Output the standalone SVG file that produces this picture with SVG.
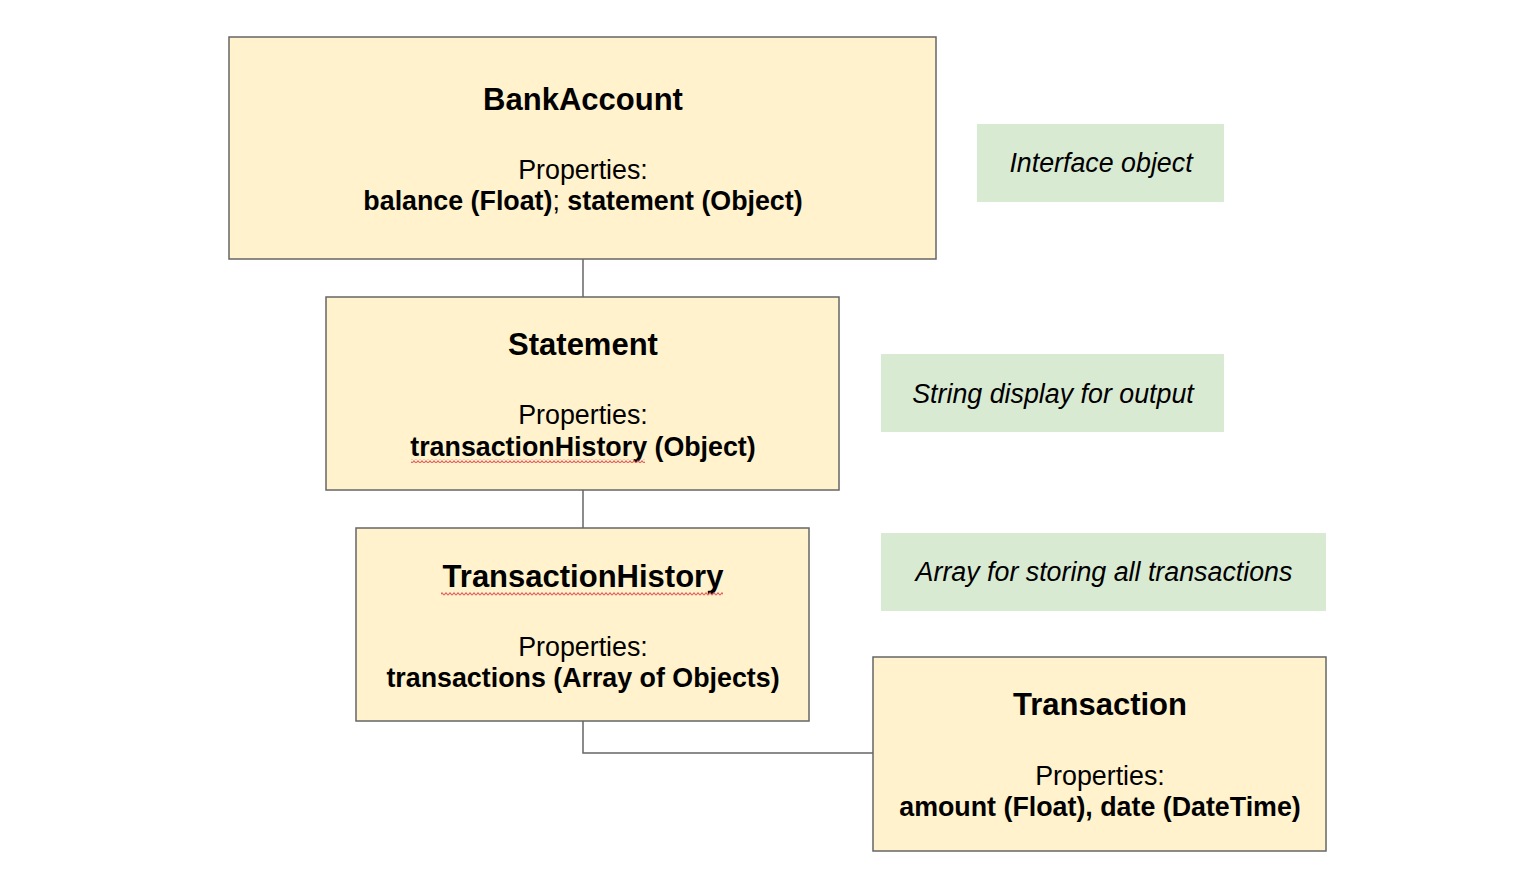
<svg xmlns="http://www.w3.org/2000/svg" width="1536" height="874" viewBox="0 0 1536 874">
<style>
.cls{fill:#fff2cc;stroke:#666666;stroke-width:1.5}
.note{fill:#d9ead3;stroke:none}
.t{font-family:"Liberation Sans",Arial,sans-serif;fill:#000;text-anchor:middle}
.title{font-size:31px;font-weight:bold}
.body{font-size:26.8px}
.b{font-weight:bold}
.it{font-size:26.8px;font-style:italic}
.conn{fill:none;stroke:#666666;stroke-width:1.5}
</style>
<defs>
<pattern id="wave" x="0" y="0" width="4" height="4" patternUnits="userSpaceOnUse">
<polyline points="0,3.2 2,0.8 4,3.2" fill="none" stroke="#e06666" stroke-width="1.1"/>
</pattern>
</defs>
<rect width="1536" height="874" fill="#ffffff"/>
<g id="connectors">
<line class="conn" x1="583" y1="259" x2="583" y2="297"/>
<line class="conn" x1="583" y1="490" x2="583" y2="528"/>
<polyline class="conn" points="583,721 583,753 873,753"/>
</g>
<g id="bankaccount">
<rect class="cls" x="229" y="37" width="707" height="222"/>
<text class="t title" x="583" y="110">BankAccount</text>
<text class="t body" x="583" y="179">Properties:</text>
<text class="t body b" x="583" y="210">balance (Float)<tspan font-weight="normal">;</tspan> statement (Object)</text>
</g>
<g id="statement">
<rect class="cls" x="326" y="297" width="513" height="193"/>
<text class="t title" x="583" y="355">Statement</text>
<text class="t body" x="583" y="424">Properties:</text>
<text class="t body b" x="583" y="456">transactionHistory (Object)</text>
<rect x="411" y="459" width="234" height="4" fill="url(#wave)"/>
</g>
<g id="transactionhistory">
<rect class="cls" x="356" y="528" width="453" height="193"/>
<text class="t title" x="583" y="587">TransactionHistory</text>
<text class="t body" x="583" y="656">Properties:</text>
<text class="t body b" x="583" y="687">transactions (Array of Objects)</text>
<rect x="441" y="592" width="282" height="4" fill="url(#wave)"/>
</g>
<g id="transaction">
<rect class="cls" x="873" y="657" width="453" height="194"/>
<text class="t title" x="1100" y="715">Transaction</text>
<text class="t body" x="1100" y="785">Properties:</text>
<text class="t body b" x="1100" y="816">amount (Float), date (DateTime)</text>
</g>
<g id="note-interface">
<rect class="note" x="977" y="124" width="247" height="78"/>
<text class="t it" x="1101" y="172">Interface object</text>
</g>
<g id="note-string">
<rect class="note" x="881" y="354" width="343" height="78"/>
<text class="t it" x="1053" y="403">String display for output</text>
</g>
<g id="note-array">
<rect class="note" x="881" y="533" width="445" height="78"/>
<text class="t it" x="1104" y="581">Array for storing all transactions</text>
</g>
</svg>
